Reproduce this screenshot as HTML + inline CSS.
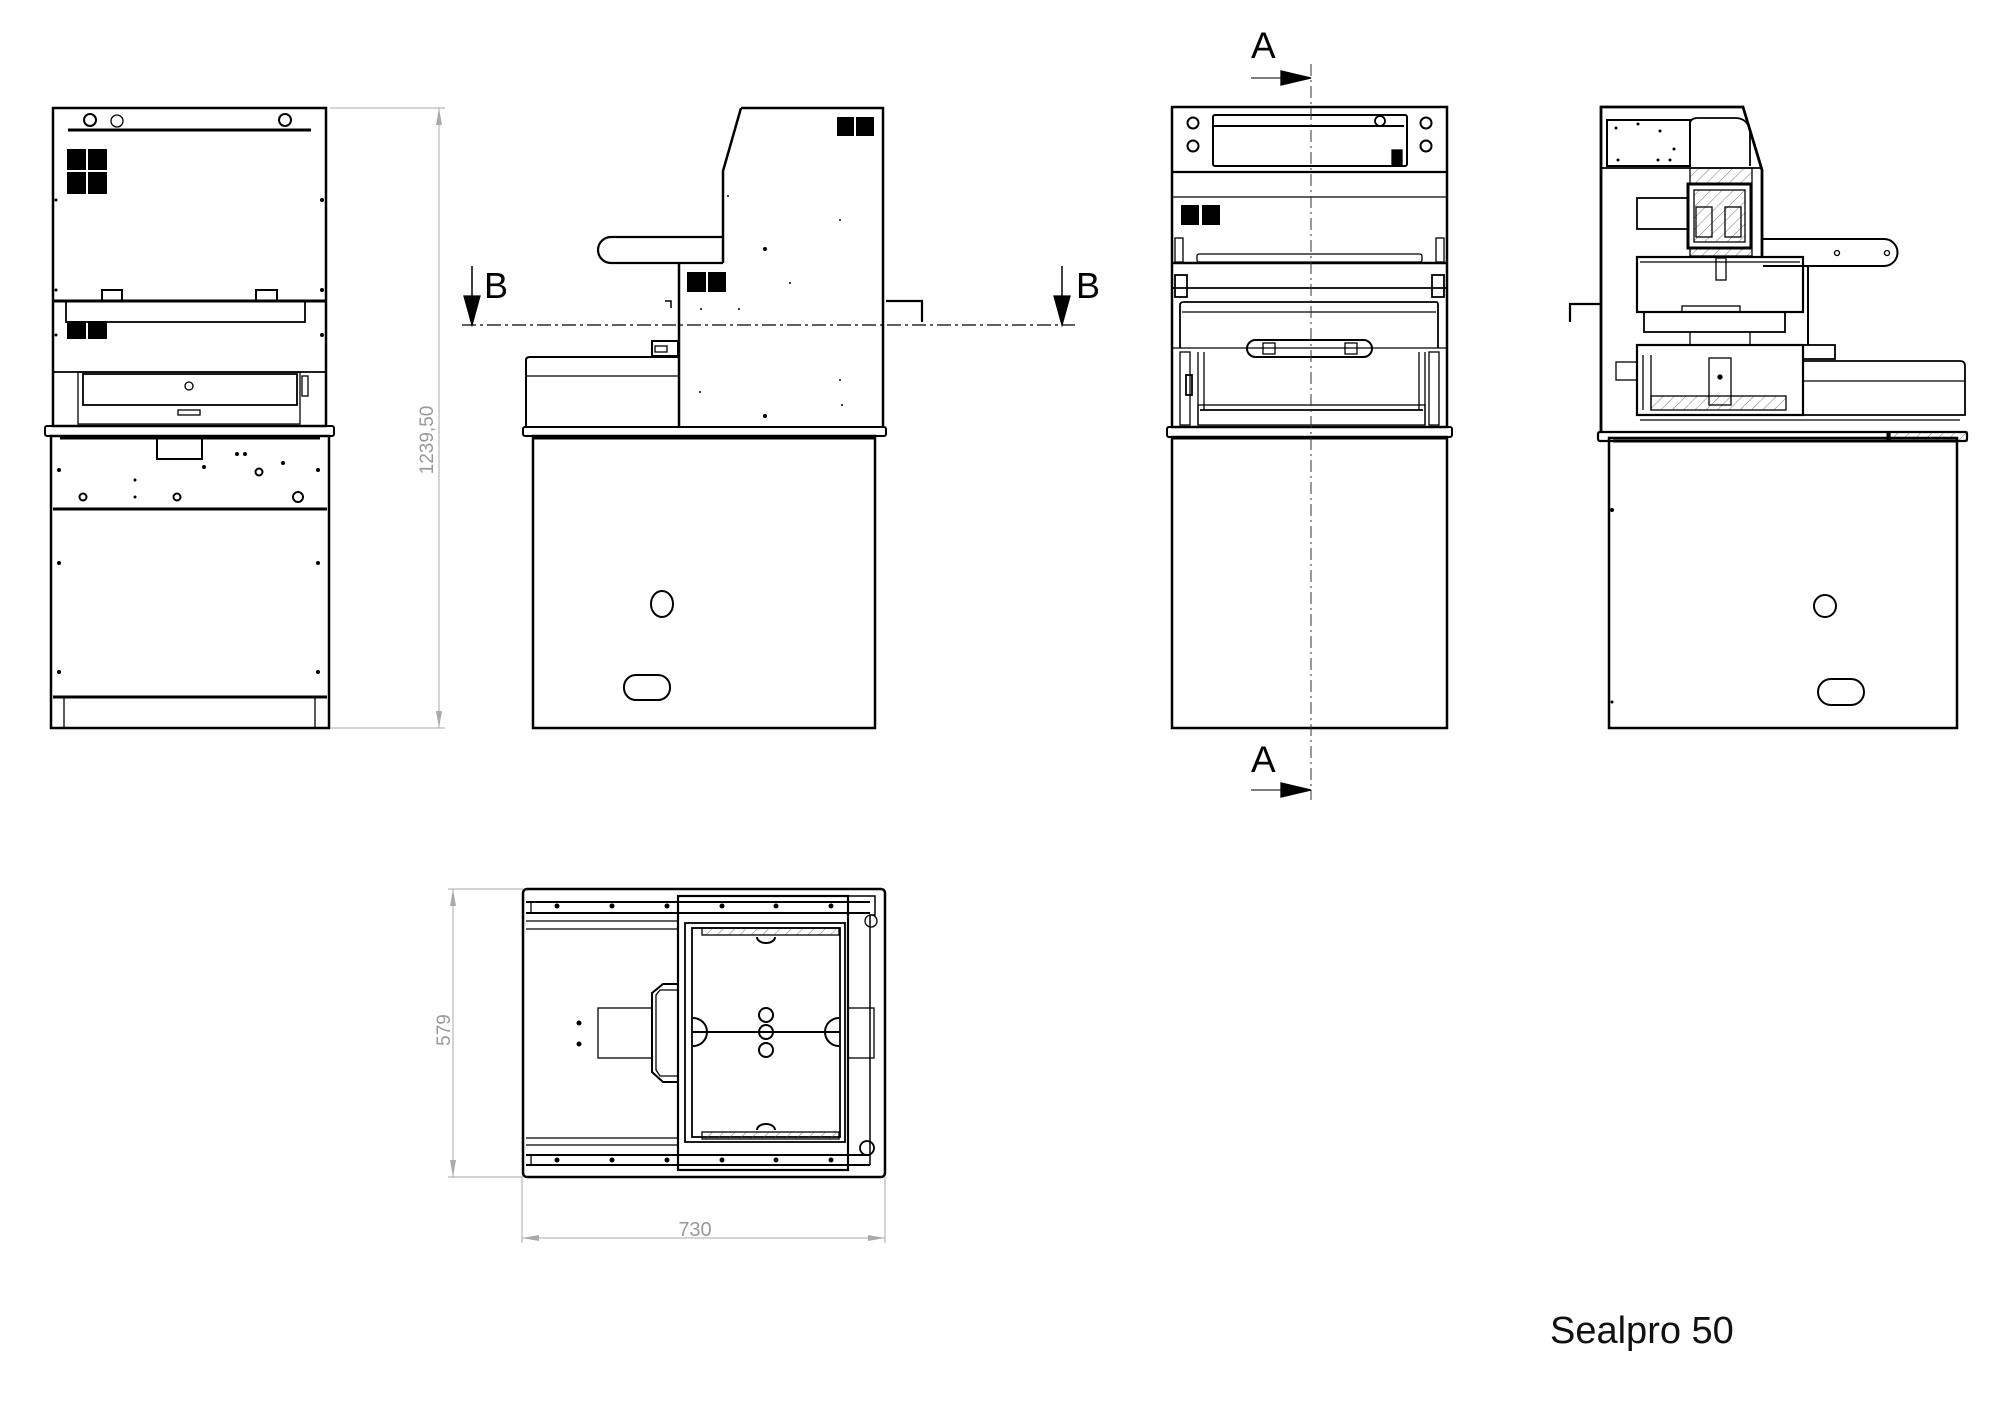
<!DOCTYPE html>
<html><head><meta charset="utf-8"><style>
html,body{margin:0;padding:0;background:#fff;}
svg{display:block;}
text{font-family:"Liberation Sans",sans-serif;}
</style></head><body>
<svg width="1997" height="1424" viewBox="0 0 1997 1424" xmlns="http://www.w3.org/2000/svg">
<defs>
<pattern id="h" width="8" height="8" patternUnits="userSpaceOnUse" patternTransform="rotate(45)"><line x1="0" y1="0" x2="0" y2="8" stroke="#555" stroke-width="0.8"/></pattern>
</defs>
<g fill="none" stroke="#000" stroke-width="1.3">

<!-- ========== VIEW 1: FRONT ========== -->
<rect x="53" y="108" width="273" height="318" stroke-width="2.5"/>
<line x1="68" y1="130" x2="311" y2="130" stroke-width="3"/>
<circle cx="90" cy="120" r="6" stroke-width="2"/><circle cx="117" cy="121" r="6"/><circle cx="285" cy="120" r="6" stroke-width="2"/>
<g fill="#000" stroke="none"><rect x="67" y="149" width="19" height="21"/><rect x="88" y="149" width="19" height="21"/><rect x="67" y="172" width="19" height="22"/><rect x="88" y="172" width="19" height="22"/>
<rect x="67" y="321" width="19" height="18"/><rect x="88" y="321" width="19" height="18"/></g>
<rect x="102" y="290" width="20" height="11" stroke-width="2"/><rect x="256" y="290" width="21" height="11" stroke-width="2"/>
<line x1="53" y1="301" x2="326" y2="301" stroke-width="3"/>
<rect x="66" y="301" width="239" height="21" stroke-width="1.8"/>
<line x1="53" y1="372" x2="326" y2="372" stroke-width="1.8"/>
<rect x="78" y="372" width="222" height="52"/>
<rect x="83" y="374" width="214" height="31" stroke-width="1.8"/>
<circle cx="189" cy="386" r="4"/>
<rect x="178" y="410" width="22" height="5"/>
<rect x="302" y="376" width="6" height="20"/>
<rect x="45" y="426" width="289" height="10" rx="2" stroke-width="2"/>
<line x1="60" y1="438" x2="320" y2="438" stroke-width="3"/>
<rect x="51" y="436" width="278" height="292" stroke-width="2.5"/>
<line x1="53" y1="509" x2="327" y2="509" stroke-width="3"/>
<rect x="157" y="437" width="45" height="22" stroke-width="2"/>
<circle cx="83" cy="497" r="3.5" stroke-width="2"/><circle cx="177" cy="497" r="3.5" stroke-width="2"/><circle cx="298" cy="497" r="5" stroke-width="2"/><circle cx="259" cy="472" r="3.5" stroke-width="2"/>
<line x1="53" y1="697" x2="327" y2="697" stroke-width="3"/>
<line x1="64" y1="697" x2="64" y2="728"/><line x1="315" y1="697" x2="315" y2="728"/>
<g fill="#000" stroke="none"><circle cx="59" cy="470" r="2"/><circle cx="318" cy="470" r="2"/><circle cx="59" cy="563" r="2"/><circle cx="318" cy="563" r="2"/><circle cx="59" cy="672" r="2"/><circle cx="318" cy="672" r="2"/><circle cx="237" cy="454" r="2"/><circle cx="245" cy="454" r="2"/><circle cx="204" cy="467" r="2"/><circle cx="283" cy="463" r="2"/><circle cx="135" cy="480" r="1.5"/><circle cx="135" cy="497" r="1.5"/><circle cx="56" cy="200" r="1.5"/><circle cx="322" cy="200" r="2"/><circle cx="322" cy="290" r="2"/><circle cx="56" cy="290" r="1.5"/><circle cx="322" cy="335" r="2"/><circle cx="56" cy="335" r="1.5"/></g>
<!-- dim 1239,50 -->
<g stroke="#aaa" stroke-width="1"><line x1="330" y1="108" x2="445" y2="108"/><line x1="330" y1="728" x2="445" y2="728"/><line x1="439" y1="108" x2="439" y2="728"/></g>
<g fill="#aaa" stroke="none"><polygon points="439,108 436,125 442,125"/><polygon points="439,728 436,711 442,711"/></g>
<text x="0" y="0" transform="translate(433,440) rotate(-90)" font-size="19" fill="#999" stroke="none" text-anchor="middle">1239,50</text>

<!-- ========== VIEW 2: SIDE ========== -->
<path d="M741,108 L883,108 L883,427 M741,108 L723,171 L723,263" stroke-width="2.5"/>
<path d="M723,237 L611,237 A13,13 0 0 0 611,263 L723,263" stroke-width="2.2"/>
<line x1="679" y1="263" x2="679" y2="427" stroke-width="2.5"/>
<path d="M526,427 L526,360 Q526,357 530,357 L679,357" stroke-width="2"/>
<line x1="526" y1="376" x2="679" y2="376"/>
<rect x="652" y="341" width="26" height="15" stroke-width="2"/><rect x="655" y="346" width="12" height="6"/>
<g fill="#000" stroke="none"><rect x="837" y="117" width="17" height="19"/><rect x="856" y="117" width="18" height="19"/><rect x="687" y="272" width="19" height="20"/><rect x="708" y="272" width="18" height="20"/>
<circle cx="765" cy="249" r="2"/><circle cx="765" cy="416" r="2"/><circle cx="790" cy="283" r="1"/><circle cx="728" cy="196" r="1"/><circle cx="840" cy="220" r="1"/><circle cx="840" cy="380" r="1"/><circle cx="842" cy="405" r="1"/><circle cx="700" cy="392" r="1"/><circle cx="701" cy="309" r="1"/><circle cx="739" cy="309" r="1"/></g>
<path d="M886,301 L922,301 L922,322" stroke-width="2.2"/>
<path d="M665,301 L671,301 L671,308" stroke-width="1.5"/>
<rect x="523" y="427" width="363" height="9" rx="2" stroke-width="2"/>
<line x1="533" y1="438" x2="876" y2="438" stroke-width="3"/>
<rect x="533" y="436" width="342" height="292" stroke-width="2.5"/>
<ellipse cx="662" cy="604" rx="11" ry="13" stroke-width="2"/>
<rect x="624" y="675" width="46" height="25" rx="12" stroke-width="2"/>
<!-- section B -->
<line x1="462" y1="325" x2="1075" y2="325" stroke-dasharray="14,4,3,4" stroke-width="1.2"/>
<line x1="472" y1="266" x2="472" y2="300" stroke-width="1.5"/><polygon points="464,296 480,296 472,325" fill="#000"/>
<line x1="1062" y1="266" x2="1062" y2="300" stroke-width="1.5"/><polygon points="1054,296 1070,296 1062,325" fill="#000"/>
<text x="484" y="298" font-size="36" fill="#000" stroke="none">B</text>
<text x="1076" y="298" font-size="36" fill="#000" stroke="none">B</text>

<!-- ========== VIEW 3: FRONT SECTION A ========== -->
<rect x="1172" y="107" width="275" height="320" stroke-width="2.5"/>
<circle cx="1193" cy="123" r="5.5" stroke-width="2"/><circle cx="1193" cy="146" r="5.5" stroke-width="2"/><circle cx="1426" cy="123" r="5.5" stroke-width="2"/><circle cx="1426" cy="146" r="5.5" stroke-width="2"/>
<rect x="1213" y="115" width="194" height="51" rx="2" stroke-width="2"/>
<line x1="1214" y1="126" x2="1404" y2="126" stroke-width="2"/>
<circle cx="1380" cy="121" r="5" stroke-width="1.8"/>
<rect x="1392" y="150" width="10" height="15" fill="#000"/>
<line x1="1172" y1="172" x2="1447" y2="172" stroke-width="2.2"/>
<line x1="1172" y1="197" x2="1447" y2="197" stroke-width="1.2"/>
<g fill="#000" stroke="none"><rect x="1181" y="205" width="18" height="20"/><rect x="1202" y="205" width="18" height="20"/></g>
<rect x="1175" y="238" width="8" height="24"/><rect x="1436" y="238" width="8" height="24"/>
<rect x="1197" y="254" width="225" height="8" rx="2"/>
<line x1="1172" y1="263" x2="1447" y2="263" stroke-width="2.5"/>
<line x1="1172" y1="288" x2="1447" y2="288" stroke-width="1.8"/>
<rect x="1175" y="275" width="12" height="22" stroke-width="1.8"/><rect x="1432" y="275" width="12" height="22" stroke-width="1.8"/>
<path d="M1180,348 L1180,305 Q1180,302 1184,302 L1436,302 Q1438,302 1438,305 L1438,348" stroke-width="1.8"/>
<line x1="1182" y1="312" x2="1436" y2="312"/>
<line x1="1172" y1="348" x2="1447" y2="348"/>
<rect x="1247" y="340" width="125" height="17" rx="8.5" stroke-width="2"/>
<rect x="1263" y="343" width="12" height="11"/><rect x="1345" y="343" width="12" height="11"/>
<line x1="1198" y1="352" x2="1198" y2="425"/><line x1="1204" y1="352" x2="1204" y2="410"/><line x1="1425" y1="352" x2="1425" y2="425"/><line x1="1419" y1="352" x2="1419" y2="410"/>
<rect x="1198" y="405" width="227" height="20"/>
<line x1="1200" y1="410" x2="1423" y2="410" stroke-width="1.8"/>
<rect x="1180" y="352" width="10" height="73"/><rect x="1429" y="352" width="10" height="73"/>
<rect x="1186" y="375" width="6" height="20" stroke-width="1.8"/>
<rect x="1167" y="427" width="285" height="10" rx="2" stroke-width="2"/>
<line x1="1172" y1="438" x2="1447" y2="438" stroke-width="3"/>
<rect x="1172" y="437" width="275" height="291" stroke-width="2.5"/>
<!-- section A -->
<line x1="1311" y1="64" x2="1311" y2="800" stroke="#333" stroke-dasharray="12,4,2,4" stroke-width="1"/>
<line x1="1251" y1="78" x2="1284" y2="78" stroke="#555" stroke-width="1.5"/><polygon points="1281,71 1281,85 1311,78" fill="#000"/>
<line x1="1251" y1="790" x2="1284" y2="790" stroke="#555" stroke-width="1.5"/><polygon points="1281,783 1281,797 1311,790" fill="#000"/>
<text x="1251" y="58" font-size="37" fill="#000" stroke="none">A</text>
<text x="1251" y="772" font-size="37" fill="#000" stroke="none">A</text>

<!-- ========== VIEW 4: SIDE SECTION ========== -->
<path d="M1601,432 L1601,107 L1743,107 L1762,170 L1762,258" stroke-width="2.8"/>
<rect x="1607" y="120" width="83" height="46" stroke-width="2"/>
<path d="M1690,166 L1690,124 Q1690,118 1698,118 L1735,118 Q1747,118 1750,130 L1750,166" stroke-width="1.8"/>
<line x1="1601" y1="168" x2="1762" y2="168" stroke-width="1.8"/>
<rect x="1690" y="168" width="62" height="88" fill="url(#h)"/>
<rect x="1688" y="184" width="63" height="64" stroke-width="3" fill="#fff"/>
<rect x="1694" y="190" width="51" height="52" fill="url(#h)"/>
<rect x="1696" y="207" width="16" height="30"/><rect x="1725" y="207" width="16" height="30"/>
<rect x="1637" y="198" width="51" height="31" stroke-width="1.8"/>
<path d="M1763,239 L1884,239 A13.5,13.5 0 0 1 1884,266 L1763,266" stroke-width="2"/>
<circle cx="1837" cy="253" r="2.5"/><circle cx="1887" cy="253" r="2.5"/>
<rect x="1716" y="258" width="10" height="22"/>
<rect x="1637" y="257" width="166" height="55" stroke-width="2.2"/>
<line x1="1640" y1="262" x2="1800" y2="262"/>
<rect x="1682" y="306" width="58" height="6"/>
<rect x="1644" y="312" width="141" height="20" stroke-width="1.8"/>
<line x1="1690" y1="332" x2="1690" y2="345"/><line x1="1750" y1="332" x2="1750" y2="345"/>
<path d="M1808,266 L1808,345" stroke-width="2"/>
<rect x="1803" y="345" width="32" height="14" stroke-width="1.8"/>
<rect x="1637" y="345" width="166" height="70" stroke-width="2.2"/>
<rect x="1651" y="396" width="135" height="14" fill="url(#h)"/>
<rect x="1709" y="358" width="22" height="47"/>
<circle cx="1720" cy="377" r="2" fill="#000"/>
<rect x="1616" y="362" width="21" height="18"/>
<line x1="1643" y1="355" x2="1643" y2="410"/><line x1="1651" y1="355" x2="1651" y2="410"/>
<path d="M1803,361 L1960,361 Q1965,361 1965,366 L1965,415 L1803,415" stroke-width="1.8"/>
<line x1="1803" y1="381" x2="1965" y2="381"/>
<line x1="1640" y1="420" x2="1960" y2="420"/>
<path d="M1570,322 L1570,304 L1601,304" stroke-width="2.2"/>
<rect x="1598" y="432" width="369" height="9" rx="2" stroke-width="2.2"/>
<rect x="1890" y="432" width="77" height="9" fill="url(#h)"/>
<line x1="1888" y1="432" x2="1888" y2="441" stroke-width="3"/>
<line x1="1613" y1="441" x2="1957" y2="441" stroke-width="3"/>
<rect x="1609" y="438" width="348" height="290" stroke-width="2.5"/>
<circle cx="1825" cy="606" r="11" stroke-width="2"/>
<rect x="1818" y="679" width="46" height="26" rx="13" stroke-width="2"/>
<g fill="#000" stroke="none"><circle cx="1612" cy="510" r="2"/><circle cx="1612" cy="702" r="1.5"/><circle cx="1616" cy="128" r="1.5"/><circle cx="1638" cy="124" r="1.5"/><circle cx="1660" cy="131" r="1.5"/><circle cx="1674" cy="149" r="1.5"/><circle cx="1618" cy="160" r="1.5"/><circle cx="1658" cy="160" r="1.5"/><circle cx="1670" cy="160" r="1.5"/></g>

<!-- ========== VIEW 5: TOP ========== -->
<rect x="523" y="889" width="362" height="288" rx="4" stroke-width="2.5"/>
<line x1="526" y1="902" x2="870" y2="902" stroke-width="2"/><line x1="526" y1="913" x2="870" y2="913" stroke-width="2"/>
<line x1="526" y1="921" x2="678" y2="921"/><line x1="526" y1="929" x2="678" y2="929"/>
<line x1="526" y1="1138" x2="678" y2="1138"/><line x1="526" y1="1145" x2="678" y2="1145"/>
<line x1="526" y1="1155" x2="870" y2="1155" stroke-width="2"/><line x1="526" y1="1165" x2="870" y2="1165" stroke-width="2"/>
<line x1="531" y1="902" x2="531" y2="913"/><line x1="531" y1="1155" x2="531" y2="1165"/>
<g fill="#000" stroke="none">
<circle cx="557" cy="906" r="2.5"/><circle cx="612" cy="906" r="2.5"/><circle cx="667" cy="906" r="2.5"/><circle cx="722" cy="906" r="2.5"/><circle cx="776" cy="906" r="2.5"/><circle cx="831" cy="906" r="2.5"/>
<circle cx="557" cy="1160" r="2.5"/><circle cx="612" cy="1160" r="2.5"/><circle cx="667" cy="1160" r="2.5"/><circle cx="722" cy="1160" r="2.5"/><circle cx="776" cy="1160" r="2.5"/><circle cx="831" cy="1160" r="2.5"/>
<circle cx="579" cy="1023" r="2.5"/><circle cx="579" cy="1044" r="2.5"/></g>
<rect x="678" y="896" width="170" height="274" stroke-width="2.2"/>
<rect x="685" y="923" width="160" height="219" stroke-width="1.8"/>
<rect x="692" y="928" width="148" height="209" stroke-width="1.8"/>
<rect x="702" y="928" width="137" height="7" fill="url(#h)"/>
<rect x="702" y="1132" width="137" height="7" fill="url(#h)"/>
<line x1="692" y1="1032" x2="840" y2="1032" stroke-width="2"/>
<circle cx="766" cy="1015" r="7" stroke-width="2"/><circle cx="766" cy="1032" r="7" stroke-width="2"/><circle cx="766" cy="1050" r="7" stroke-width="2"/>
<path d="M693,1018 A14,14 0 0 1 693,1046" stroke-width="2"/><path d="M839,1018 A14,14 0 0 0 839,1046" stroke-width="2"/>
<path d="M766,937 m-9,0 a9,6 0 0 0 18,0" stroke-width="2"/><path d="M757,1130 a9,6 0 0 1 18,0" stroke-width="2"/>
<rect x="598" y="1008" width="54" height="50"/>
<path d="M678,984 L663,984 L652,993 L652,1072 L663,1082 L678,1082" stroke-width="2"/>
<path d="M678,990 L660,990 L656,995 L656,1070 L660,1076 L678,1076"/>
<rect x="848" y="1008" width="26" height="50"/>
<path d="M848,896 L875,896 L875,915 L870,915 L870,1165" stroke-width="1.5"/>
<circle cx="871" cy="921" r="6"/><circle cx="867" cy="1148" r="7" stroke-width="1.8"/>
<!-- dims -->
<g stroke="#aaa" stroke-width="1"><line x1="448" y1="889" x2="523" y2="889"/><line x1="448" y1="1177" x2="523" y2="1177"/><line x1="453" y1="889" x2="453" y2="1177"/>
<line x1="522" y1="1177" x2="522" y2="1243"/><line x1="885" y1="1177" x2="885" y2="1243"/><line x1="522" y1="1238" x2="885" y2="1238"/></g>
<g fill="#aaa" stroke="none"><polygon points="453,889 450,906 456,906"/><polygon points="453,1177 450,1160 456,1160"/><polygon points="522,1238 539,1235 539,1241"/><polygon points="885,1238 868,1235 868,1241"/></g>
<text x="0" y="0" transform="translate(450,1030) rotate(-90)" font-size="19" fill="#999" stroke="none" text-anchor="middle">579</text>
<text x="695" y="1236" font-size="20" fill="#999" stroke="none" text-anchor="middle">730</text>
</g>
<text x="1550" y="1343" font-size="38" fill="#111">Sealpro 50</text>
</svg>
</body></html>
